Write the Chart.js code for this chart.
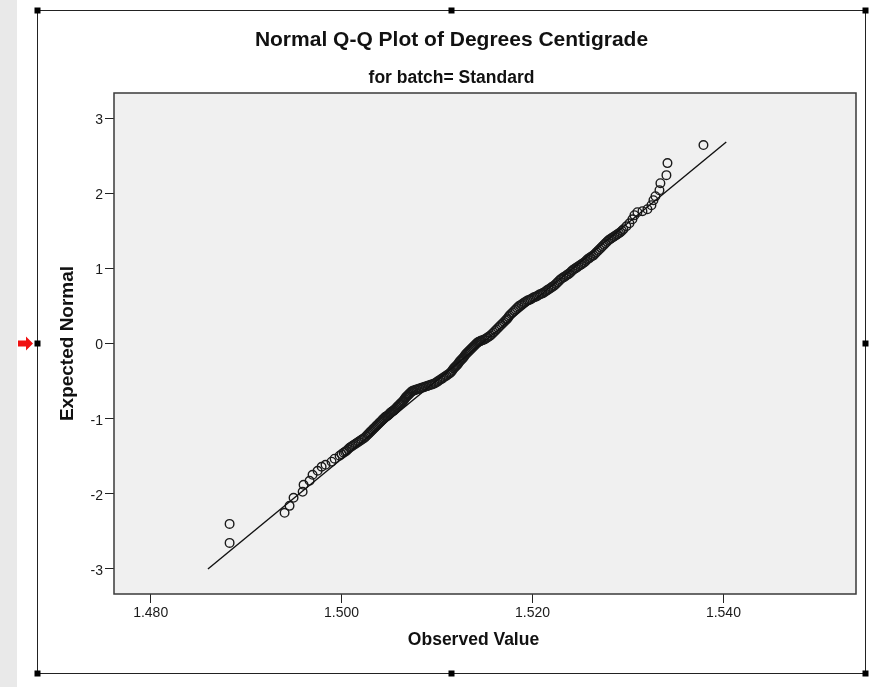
<!DOCTYPE html>
<html>
<head>
<meta charset="utf-8">
<script src="https://cdn.jsdelivr.net/npm/chart.js@4"></script>
<style>
  html, body { margin: 0; padding: 0; background: #ffffff; }
  canvas { display: block; }
</style>
</head>
<body>
<canvas id="c" width="875" height="687"></canvas>
<script>
// ---- data ----
const chartTitle = "Normal Q-Q Plot of Degrees Centigrade";
const chartSubtitle = "for batch= Standard";
const xAxisTitle = "Observed Value";
const yAxisTitle = "Expected Normal";

const xTickValues = [1.480, 1.500, 1.520, 1.540];
const yTickValues = [-3, -2, -1, 0, 1, 2, 3];

// sorted observed values (x) and their expected normal scores (y)
const observedValues = [
  1.48827, 1.48827, 1.49403, 1.49455, 1.49497, 1.49592, 1.49602, 1.49665, 1.49696, 1.49749,
  1.49791, 1.49832, 1.49895, 1.49927, 1.49979, 1.50000, 1.50021, 1.50037, 1.50052, 1.50068,
  1.50084, 1.50100, 1.50115, 1.50131, 1.50147, 1.50163, 1.50178, 1.50194, 1.50209, 1.50225,
  1.50241, 1.50257, 1.50272, 1.50283, 1.50293, 1.50304, 1.50314, 1.50325, 1.50335, 1.50346,
  1.50356, 1.50367, 1.50377, 1.50388, 1.50398, 1.50409, 1.50419, 1.50430, 1.50440, 1.50451,
  1.50461, 1.50472, 1.50482, 1.50493, 1.50503, 1.50514, 1.50524, 1.50535, 1.50545, 1.50555,
  1.50565, 1.50576, 1.50586, 1.50597, 1.50607, 1.50618, 1.50628, 1.50639, 1.50649, 1.50660,
  1.50670, 1.50681, 1.50691, 1.50702, 1.50712, 1.50723, 1.50733, 1.50744, 1.50754, 1.50770,
  1.50785, 1.50801, 1.50817, 1.50833, 1.50848, 1.50864, 1.50880, 1.50896, 1.50911, 1.50927,
  1.50942, 1.50958, 1.50974, 1.50990, 1.51005, 1.51021, 1.51037, 1.51053, 1.51068, 1.51084,
  1.51099, 1.51115, 1.51131, 1.51142, 1.51152, 1.51163, 1.51173, 1.51184, 1.51194, 1.51205,
  1.51215, 1.51226, 1.51236, 1.51247, 1.51257, 1.51267, 1.51277, 1.51288, 1.51298, 1.51309,
  1.51319, 1.51330, 1.51340, 1.51351, 1.51361, 1.51372, 1.51382, 1.51393, 1.51403, 1.51414,
  1.51424, 1.51435, 1.51445, 1.51456, 1.51466, 1.51482, 1.51497, 1.51513, 1.51529, 1.51545,
  1.51560, 1.51576, 1.51592, 1.51608, 1.51623, 1.51639, 1.51654, 1.51670, 1.51686, 1.51702,
  1.51717, 1.51728, 1.51738, 1.51749, 1.51759, 1.51775, 1.51791, 1.51807, 1.51822, 1.51838,
  1.51853, 1.51869, 1.51885, 1.51901, 1.51916, 1.51932, 1.51948, 1.51964, 1.51979, 1.51995,
  1.52010, 1.52026, 1.52042, 1.52058, 1.52073, 1.52089, 1.52105, 1.52121, 1.52136, 1.52152,
  1.52168, 1.52184, 1.52199, 1.52215, 1.52230, 1.52246, 1.52262, 1.52278, 1.52293, 1.52309,
  1.52325, 1.52341, 1.52356, 1.52372, 1.52387, 1.52403, 1.52419, 1.52435, 1.52450, 1.52466,
  1.52482, 1.52498, 1.52513, 1.52529, 1.52545, 1.52561, 1.52576, 1.52592, 1.52607, 1.52623,
  1.52639, 1.52655, 1.52670, 1.52686, 1.52702, 1.52718, 1.52733, 1.52749, 1.52764, 1.52780,
  1.52796, 1.52812, 1.52827, 1.52843, 1.52859, 1.52875, 1.52890, 1.52906, 1.52921, 1.52937,
  1.52953, 1.52984, 1.53016, 1.53047, 1.53068, 1.53099, 1.53152, 1.53204, 1.53246, 1.53267,
  1.53288, 1.53330, 1.53340, 1.53403, 1.53414, 1.53791
];

const expectedNormal = [
  -2.653, -2.400, -2.253, -2.160, -2.053, -1.973, -1.880, -1.827, -1.747, -1.693,
  -1.640, -1.613, -1.573, -1.533, -1.493, -1.473, -1.453, -1.440, -1.427, -1.407,
  -1.387, -1.373, -1.360, -1.347, -1.333, -1.320, -1.307, -1.293, -1.280, -1.267,
  -1.253, -1.233, -1.213, -1.200, -1.187, -1.173, -1.160, -1.147, -1.133, -1.120,
  -1.107, -1.093, -1.080, -1.067, -1.053, -1.040, -1.027, -1.013, -1.000, -0.987,
  -0.973, -0.967, -0.960, -0.947, -0.933, -0.920, -0.907, -0.900, -0.893, -0.880,
  -0.867, -0.853, -0.840, -0.827, -0.813, -0.800, -0.787, -0.773, -0.760, -0.740,
  -0.720, -0.707, -0.693, -0.680, -0.667, -0.653, -0.640, -0.633, -0.627, -0.620,
  -0.613, -0.607, -0.600, -0.593, -0.587, -0.580, -0.573, -0.567, -0.560, -0.553,
  -0.547, -0.540, -0.533, -0.520, -0.507, -0.493, -0.480, -0.467, -0.453, -0.440,
  -0.427, -0.413, -0.400, -0.387, -0.373, -0.353, -0.333, -0.320, -0.307, -0.293,
  -0.280, -0.260, -0.240, -0.227, -0.213, -0.200, -0.187, -0.167, -0.147, -0.133,
  -0.120, -0.107, -0.093, -0.080, -0.067, -0.053, -0.040, -0.027, -0.013, 0.000,
  0.013, 0.020, 0.027, 0.033, 0.040, 0.047, 0.053, 0.067, 0.080, 0.093,
  0.107, 0.127, 0.147, 0.167, 0.187, 0.207, 0.227, 0.247, 0.267, 0.287,
  0.307, 0.320, 0.333, 0.353, 0.373, 0.393, 0.413, 0.433, 0.453, 0.473,
  0.493, 0.507, 0.520, 0.533, 0.547, 0.560, 0.573, 0.580, 0.587, 0.600,
  0.613, 0.620, 0.627, 0.640, 0.653, 0.660, 0.667, 0.680, 0.693, 0.707,
  0.720, 0.733, 0.747, 0.760, 0.773, 0.793, 0.813, 0.833, 0.853, 0.867,
  0.880, 0.893, 0.907, 0.920, 0.933, 0.953, 0.973, 0.987, 1.000, 1.013,
  1.027, 1.040, 1.053, 1.067, 1.080, 1.100, 1.120, 1.133, 1.147, 1.160,
  1.173, 1.193, 1.213, 1.233, 1.253, 1.273, 1.293, 1.313, 1.333, 1.353,
  1.373, 1.387, 1.400, 1.413, 1.427, 1.440, 1.453, 1.467, 1.480, 1.500,
  1.520, 1.560, 1.600, 1.653, 1.707, 1.747, 1.760, 1.787, 1.840, 1.907,
  1.960, 2.040, 2.133, 2.240, 2.400, 2.640
];

// reference (normal) line end points
const lineX = [1.4860, 1.5403];
const lineY = [-3.0, 2.68];

// axis ranges
const xMin = 1.47616, xMax = 1.55389;
const yMin = -3.333, yMax = 3.333;

// ---- build datasets ----
const pointData = observedValues.map((v, i) => ({ x: v, y: expectedNormal[i] }));
const lineData = lineX.map((v, i) => ({ x: v, y: lineY[i] }));

const FONT = "'Liberation Sans', Arial, Helvetica, sans-serif";

const decorPlugin = {
  id: 'decor',
  beforeDraw(chart) {
    const ctx = chart.ctx;
    const W = chart.width, H = chart.height;
    ctx.save();
    ctx.fillStyle = '#ffffff';
    ctx.fillRect(0, 0, W, H);
    // left grey strip
    ctx.fillStyle = '#e9e9e9';
    ctx.fillRect(0, 0, 17, H);
    // outer frame
    ctx.strokeStyle = '#222';
    ctx.lineWidth = 1;
    ctx.strokeRect(37.5, 10.5, 828, 663);
    // handles
    ctx.fillStyle = '#000';
    const hs = [[37.5,10.5],[451.5,10.5],[865.5,10.5],[37.5,343.5],[865.5,343.5],[37.5,673.5],[451.5,673.5],[865.5,673.5]];
    hs.forEach(([x, y]) => ctx.fillRect(x - 3, y - 3, 6, 6));
    // red arrow
    ctx.fillStyle = '#f01010';
    ctx.beginPath();
    ctx.moveTo(18, 340.5);
    ctx.lineTo(26, 340.5);
    ctx.lineTo(26, 336.5);
    ctx.lineTo(33, 343.5);
    ctx.lineTo(26, 350.5);
    ctx.lineTo(26, 346.5);
    ctx.lineTo(18, 346.5);
    ctx.closePath();
    ctx.fill();
    // plot background
    const a = chart.chartArea;
    ctx.fillStyle = '#f0f0f0';
    ctx.fillRect(a.left, a.top, a.right - a.left, a.bottom - a.top);
    ctx.restore();
  },
  afterDraw(chart) {
    const ctx = chart.ctx;
    const a = chart.chartArea;
    ctx.save();
    ctx.strokeStyle = '#3a3a3a';
    ctx.lineWidth = 1.5;
    ctx.strokeRect(a.left, a.top, a.right - a.left, a.bottom - a.top);
    // x axis title (sits a little left of the plot centre in the reference)
    ctx.fillStyle = '#111';
    ctx.font = "bold 17.5px " + FONT;
    ctx.textAlign = 'center';
    ctx.textBaseline = 'middle';
    ctx.fillText(xAxisTitle, 473.5, 640);
    ctx.restore();
  }
};

new Chart(document.getElementById('c'), {
  type: 'scatter',
  data: {
    datasets: [
      {
        label: 'Observed',
        data: pointData,
        yAxisID: 'y',
        xAxisID: 'x',
        showLine: false,
        pointStyle: 'circle',
        pointRadius: 4.3,
        pointBorderWidth: 1.4,
        borderColor: '#1a1a1a',
        backgroundColor: 'rgba(0,0,0,0)',
        order: 2
      },
      {
        label: 'Normal line',
        data: lineData,
        yAxisID: 'y',
        xAxisID: 'x',
        showLine: true,
        pointRadius: 0,
        borderColor: '#111',
        borderWidth: 1.4,
        order: 1
      }
    ]
  },
  options: {
    responsive: false,
    animation: false,
    devicePixelRatio: 1,
    layout: { padding: { left: 37, right: 9, top: 0, bottom: 0 } },
    plugins: {
      legend: { display: false },
      tooltip: { enabled: false },
      title: {
        display: true,
        text: chartTitle,
        color: '#111',
        font: { family: FONT, size: 21, weight: 'bold', lineHeight: 1.2 },
        padding: { top: 27.9, bottom: 0 }
      },
      subtitle: {
        display: true,
        text: chartSubtitle,
        color: '#111',
        font: { family: FONT, size: 17.5, weight: 'bold', lineHeight: 1.2 },
        padding: { top: 14.4, bottom: 4.5 }
      }
    },
    scales: {
      x: {
        type: 'linear',
        position: 'bottom',
        min: xMin,
        max: xMax,
        afterBuildTicks(scale) { scale.ticks = xTickValues.map(v => ({ value: v })); },
        afterFit(scale) { scale.height = 93; },
        grid: { display: true, drawOnChartArea: false, drawTicks: true, tickLength: 9, color: '#222', lineWidth: 1 },
        border: { display: false },
        ticks: {
          padding: 2,
          color: '#1a1a1a',
          font: { family: FONT, size: 14 },
          maxRotation: 0,
          callback: (v) => Number(v).toFixed(3)
        },
        title: { display: false }
      },
      y: {
        type: 'linear',
        position: 'left',
        min: yMin,
        max: yMax,
        afterBuildTicks(scale) { scale.ticks = yTickValues.map(v => ({ value: v })); },
        afterFit(scale) { scale.width = 77; },
        grid: { display: true, drawOnChartArea: false, drawTicks: true, tickLength: 9, color: '#222', lineWidth: 1 },
        border: { display: false },
        ticks: {
          padding: 2,
          labelOffset: 2,
          color: '#1a1a1a',
          font: { family: FONT, size: 14 },
          callback: (v) => String(v)
        },
        title: {
          display: true,
          text: yAxisTitle,
          color: '#111',
          font: { family: FONT, size: 19, weight: 'bold', lineHeight: 1.2 },
          padding: { top: 19.6, bottom: 0 }
        }
      },
      y2: {
        type: 'linear',
        position: 'right',
        display: true,
        afterFit(scale) { scale.width = 10; },
        grid: { display: false, drawTicks: false },
        border: { display: false },
        ticks: { display: false }
      }
    }
  },
  plugins: [decorPlugin]
});
</script>
</body>
</html>
